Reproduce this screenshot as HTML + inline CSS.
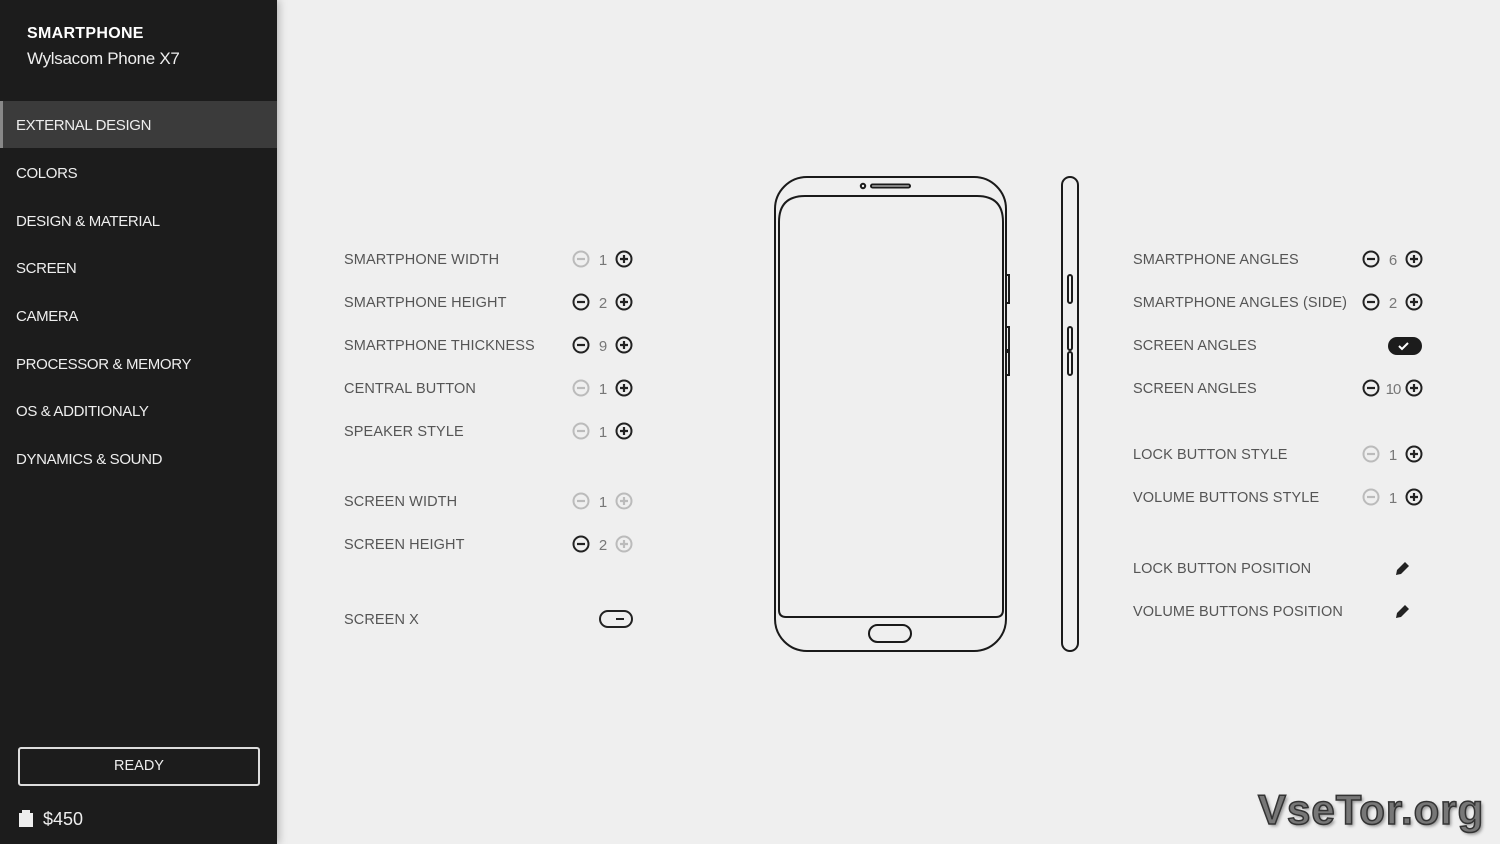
<!DOCTYPE html>
<html><head><meta charset="utf-8"><style>
*{margin:0;padding:0;box-sizing:border-box}
body{width:1500px;height:844px;background:#efefef;font-family:"Liberation Sans",sans-serif;position:relative;overflow:hidden}
.sb{position:absolute;left:0;top:0;width:277px;height:844px;background:#1c1c1c;box-shadow:2px 0 8px rgba(0,0,0,.25)}
.t{position:absolute;white-space:nowrap}
.m{color:#eee;font-size:15px;letter-spacing:-0.35px;left:16px}
.l{color:#555;font-size:14.5px;letter-spacing:0.1px}
.n{color:#777;font-size:15px;width:20px;text-align:center}
</style></head><body>
<div class="sb">
<div class="t" style="left:27px;top:25px;color:#fff;font-weight:bold;font-size:16px;letter-spacing:.3px">SMARTPHONE</div>
<div class="t" style="left:27px;top:49px;color:#eee;font-size:17px;letter-spacing:-0.3px">Wylsacom Phone X7</div>
<div style="position:absolute;left:0;top:101px;width:277px;height:47px;background:#3b3b3b;border-left:3px solid #888"></div>
<div class="t m" style="top:117px">EXTERNAL DESIGN</div>
<div class="t m" style="top:165px">COLORS</div>
<div class="t m" style="top:213px">DESIGN &amp; MATERIAL</div>
<div class="t m" style="top:260px">SCREEN</div>
<div class="t m" style="top:308px">CAMERA</div>
<div class="t m" style="top:356px">PROCESSOR &amp; MEMORY</div>
<div class="t m" style="top:403px">OS &amp; ADDITIONALY</div>
<div class="t m" style="top:451px">DYNAMICS &amp; SOUND</div>
<div style="position:absolute;left:18px;top:747px;width:242px;height:39px;border:2px solid #ddd;border-radius:3px;color:#eee;font-size:14.5px;text-align:center;line-height:35px">READY</div>
<svg style="position:absolute;left:18px;top:808px" width="16" height="20"><path d="M4 5 V2 h8 v3 h3 v14 H1 V5z" fill="#eee"/></svg>
<div class="t" style="left:43px;top:809px;color:#eee;font-size:18px">$450</div>
</div>

<div class="t l" style="left:344px;top:252px">SMARTPHONE WIDTH</div>
<div class="t l" style="left:344px;top:295px">SMARTPHONE HEIGHT</div>
<div class="t l" style="left:344px;top:338px">SMARTPHONE THICKNESS</div>
<div class="t l" style="left:344px;top:381px">CENTRAL BUTTON</div>
<div class="t l" style="left:344px;top:424px">SPEAKER STYLE</div>
<div class="t l" style="left:344px;top:494px">SCREEN WIDTH</div>
<div class="t l" style="left:344px;top:537px">SCREEN HEIGHT</div>
<div class="t l" style="left:344px;top:612px">SCREEN X</div>

<div class="t l" style="left:1133px;top:252px">SMARTPHONE ANGLES</div>
<div class="t l" style="left:1133px;top:295px">SMARTPHONE ANGLES (SIDE)</div>
<div class="t l" style="left:1133px;top:338px">SCREEN ANGLES</div>
<div class="t l" style="left:1133px;top:381px">SCREEN ANGLES</div>
<div class="t l" style="left:1133px;top:447px">LOCK BUTTON STYLE</div>
<div class="t l" style="left:1133px;top:490px">VOLUME BUTTONS STYLE</div>
<div class="t l" style="left:1133px;top:561px">LOCK BUTTON POSITION</div>
<div class="t l" style="left:1133px;top:604px">VOLUME BUTTONS POSITION</div>

<div class="t n" style="left:593px;top:252px">1</div>
<div class="t n" style="left:593px;top:295px">2</div>
<div class="t n" style="left:593px;top:338px">9</div>
<div class="t n" style="left:593px;top:381px">1</div>
<div class="t n" style="left:593px;top:424px">1</div>
<div class="t n" style="left:593px;top:494px">1</div>
<div class="t n" style="left:593px;top:537px">2</div>
<div class="t n" style="left:1383px;top:252px">6</div>
<div class="t n" style="left:1383px;top:295px">2</div>
<div class="t n" style="left:1383px;top:381px;letter-spacing:-1px">10</div>
<div class="t n" style="left:1383px;top:447px">1</div>
<div class="t n" style="left:1383px;top:490px">1</div>

<svg style="position:absolute;left:0;top:0" width="1500" height="844" fill="none">
<defs>
<g id="mi"><circle r="7.5" stroke-width="2"/><path d="M-4 0H4" stroke-width="2.2"/></g>
<g id="pl"><circle r="7.5" stroke-width="2"/><path d="M-4 0H4M0 -4V4" stroke-width="2.2"/></g>
</defs>
<g stroke="#bbb"><use href="#mi" x="581" y="259"/><use href="#mi" x="581" y="388"/><use href="#mi" x="581" y="431"/><use href="#mi" x="581" y="501"/><use href="#mi" x="1371" y="454"/><use href="#mi" x="1371" y="497"/><use href="#pl" x="624" y="501"/><use href="#pl" x="624" y="544"/></g>
<g stroke="#222"><use href="#mi" x="581" y="302"/><use href="#mi" x="581" y="345"/><use href="#mi" x="581" y="544"/>
<use href="#pl" x="624" y="259"/><use href="#pl" x="624" y="302"/><use href="#pl" x="624" y="345"/><use href="#pl" x="624" y="388"/><use href="#pl" x="624" y="431"/>
<use href="#mi" x="1371" y="259"/><use href="#mi" x="1371" y="302"/><use href="#mi" x="1371" y="388"/>
<use href="#pl" x="1414" y="259"/><use href="#pl" x="1414" y="302"/><use href="#pl" x="1414" y="388"/><use href="#pl" x="1414" y="454"/><use href="#pl" x="1414" y="497"/></g>
<rect x="600" y="611" width="32" height="16" rx="8" stroke="#222" stroke-width="2"/><path d="M616 619h8" stroke="#222" stroke-width="2"/>
<rect x="1388" y="337" width="34" height="18" rx="9" fill="#1c1c1c"/><path d="M1399 346l3 3 6-6" stroke="#fff" stroke-width="2"/>
<g fill="#222"><path d="M1396 575l1-5 8-8 4 4-8 8z"/><path d="M1396 618l1-5 8-8 4 4-8 8z"/></g>
<g stroke="#1a1a1a" stroke-width="2">
<rect x="775" y="177" width="231" height="474" rx="32"/>
<path d="M779 610V222q0-26 26-26H977q26 0 26 26V610q0 7-7 7H786q-7 0-7-7z"/>
<rect x="869" y="625" width="42" height="17" rx="8.5"/>
<circle cx="863" cy="186" r="2.2"/>
<rect x="871" y="184.5" width="39" height="3" rx="1.5"/>
<path d="M1006 275h3v28h-3M1006 327h3v23h-3M1006 352h3v23h-3"/>
<rect x="1062" y="177" width="16" height="474" rx="8"/>
<rect x="1068" y="275" width="4" height="28" rx="2"/>
<rect x="1068" y="327" width="4" height="23" rx="2"/>
<rect x="1068" y="352" width="4" height="23" rx="2"/>
</g>
</svg>
<div class="t" style="left:1258px;top:786px;font-size:42px;font-weight:bold;color:#777;-webkit-text-stroke:1.5px #333;text-shadow:2px 2px 3px rgba(0,0,0,.4);letter-spacing:1px">VseTor.org</div>
</body></html>
